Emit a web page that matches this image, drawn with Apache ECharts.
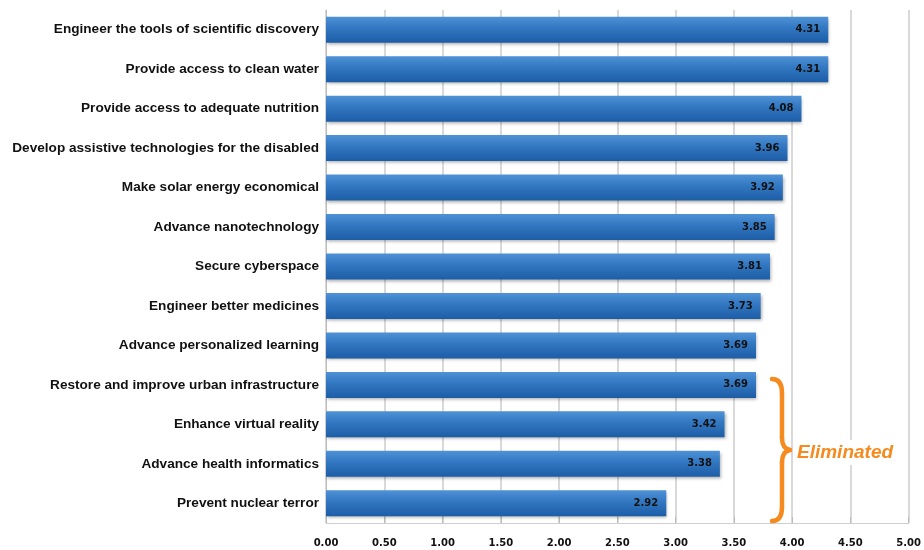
<!DOCTYPE html>
<html><head><meta charset="utf-8">
<script src="https://cdn.jsdelivr.net/npm/echarts@6/dist/echarts.min.js"></script>
<style>html,body{margin:0;padding:0;background:#fff}#c{width:924px;height:550px}</style>
</head><body><div id="c"></div>
<script>
const categories = [
  "Engineer the tools of scientific discovery",
  "Provide access to clean water",
  "Provide access to adequate nutrition",
  "Develop assistive technologies for the disabled",
  "Make solar energy economical",
  "Advance nanotechnology",
  "Secure cyberspace",
  "Engineer better medicines",
  "Advance personalized learning",
  "Restore and improve urban infrastructure",
  "Enhance virtual reality",
  "Advance health informatics",
  "Prevent nuclear terror"
];
const values = [4.31, 4.31, 4.08, 3.96, 3.92, 3.85, 3.81, 3.73, 3.69, 3.69, 3.42, 3.38, 2.92];
const bracketLabel = "Eliminated";

const orange = '#f58a1f';
const bs = {stroke: orange, lineWidth: 4.5, fill: 'none', lineCap: 'round'};
const chart = echarts.init(document.getElementById('c'));
chart.setOption({
  animation: false,
  grid: {left: 326, right: 15, top: 10, bottom: 27},
  xAxis: {
    type: 'value', min: 0, max: 5, interval: 0.5,
    axisLabel: {formatter: v => v.toFixed(2), fontFamily: 'DejaVu Sans', fontWeight: 'bold', fontSize: 10, color: '#111', margin: 15},
    axisLine: {show: true, lineStyle: {color: '#cfcfcf'}},
    axisTick: {show: true, inside: true, length: 6, lineStyle: {color: '#bbb'}},
    splitLine: {show: true, lineStyle: {color: '#cccccc', width: 1.5}}
  },
  yAxis: {
    type: 'category', data: categories, inverse: true,
    axisLabel: {fontFamily: 'Liberation Sans', fontWeight: 'bold', fontSize: 13.6, color: '#111', margin: 7},
    axisLine: {show: true, lineStyle: {color: '#bbb'}},
    axisTick: {show: false}
  },
  series: [{
    type: 'bar', data: values, barWidth: 26,
    itemStyle: {
      color: {type: 'linear', x: 0, y: 0, x2: 0, y2: 1, colorStops: [
        {offset: 0, color: '#4f92d6'},
        {offset: 0.4, color: '#3479c3'},
        {offset: 1, color: '#1c5da6'}
      ]},
      shadowColor: 'rgba(0,0,0,0.3)', shadowBlur: 3, shadowOffsetX: 1, shadowOffsetY: 2
    },
    label: {show: true, position: 'insideRight', formatter: p => p.value.toFixed(2),
      fontFamily: 'DejaVu Sans', fontWeight: 'bold', fontSize: 10, color: '#111', distance: 8}
  }],
  graphic: [
    {type: 'bezierCurve', z: 100, shape: {x1: 772, y1: 379, x2: 782, y2: 393, cpx1: 779, cpy1: 379, cpx2: 782, cpy2: 384}, style: bs},
    {type: 'line', z: 100, shape: {x1: 782, y1: 393, x2: 782, y2: 438}, style: bs},
    {type: 'bezierCurve', z: 100, shape: {x1: 782, y1: 438, x2: 790, y2: 450, cpx1: 782, cpy1: 446, cpx2: 785, cpy2: 449}, style: bs},
    {type: 'bezierCurve', z: 100, shape: {x1: 790, y1: 450, x2: 782, y2: 462, cpx1: 785, cpy1: 451, cpx2: 782, cpy2: 454}, style: bs},
    {type: 'line', z: 100, shape: {x1: 782, y1: 462, x2: 782, y2: 507}, style: bs},
    {type: 'bezierCurve', z: 100, shape: {x1: 782, y1: 507, x2: 772, y2: 521, cpx1: 782, cpy1: 516, cpx2: 779, cpy2: 521}, style: bs},
    {type: 'text', z: 100, x: 797, y: 440, style: {text: bracketLabel, fill: orange,
      font: 'italic bold 19px "Liberation Sans"', backgroundColor: '#fff', padding: [3, 0, 3, 0]}}
  ]
});
</script></body></html>
